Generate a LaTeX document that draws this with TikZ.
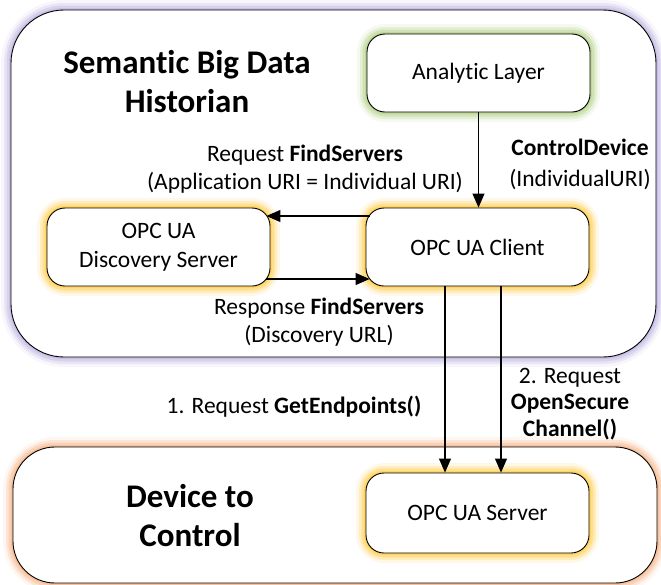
\documentclass[tikz,border=0pt]{standalone}
\usepackage{fontspec}
\setmainfont{Carlito}[Ligatures=NoCommon]
\usetikzlibrary{arrows.meta}

\definecolor{glowpurple}{RGB}{190,180,225}
\definecolor{glowgreen}{RGB}{180,210,135}
\definecolor{glowgold}{RGB}{255,205,70}
\definecolor{gloworange}{RGB}{245,180,135}

\tikzset{
  glow/.style={
    preaction={draw=#1, line width=20pt, opacity=0.12},
    preaction={draw=#1, line width=14pt, opacity=0.25},
    preaction={draw=#1, line width=9pt, opacity=0.40},
    preaction={draw=#1, line width=4pt, opacity=0.60}},
  region/.style={draw=black, line width=0.9pt, fill=white, rounded corners=#1,
    inner sep=0pt},
  unitbox/.style={draw=black, line width=0.9pt, fill=white, rounded corners=18pt,
    minimum width=223pt, minimum height=78pt, align=center, inner sep=0pt,
    font=\fontsize{23.5}{29}\selectfont},
  titletext/.style={align=center, font=\fontsize{33}{39}\selectfont\bfseries},
  lbl/.style={align=center, font=\fontsize{23.5}{28}\selectfont},
  arr/.style={draw=black, line width=1.1pt, -{Triangle[length=14pt,width=12pt]}}
}

\begin{document}
\begin{tikzpicture}[x=1pt, y=-1pt]
\useasboundingbox (0,0) rectangle (661,584);

% enclosing regions
\node[region=53pt, glow=glowpurple, minimum width=645pt, minimum height=347pt]
  (historian) at (333.5,183.5) {};
\node[region=42pt, glow=gloworange, minimum width=644pt, minimum height=136pt]
  (device) at (335,515) {};

\node[titletext] (histtitle) at (187,82) {Semantic Big Data\\Historian};
\node[titletext] (devtitle) at (190,516) {Device to\\Control};

% components
\node[unitbox, glow=glowgreen] (analytic) at (478.5,73) {Analytic Layer};
\node[unitbox, glow=glowgold] (disc) at (158.5,247) {OPC UA\\Discovery Server};
\node[unitbox, glow=glowgold] (client) at (477.5,247) {OPC UA Client};
\node[unitbox, glow=glowgold, minimum height=80pt] (server) at (477.5,513) {OPC UA Server};

% messages
\draw[arr] (analytic.south) -- (analytic.south |- client.north);
\draw[arr] ([xshift=4pt, yshift=31pt]client.west) -- ([xshift=-4pt, yshift=31pt]disc.east);
\draw[arr] ([xshift=-4pt, yshift=-32pt]disc.east) -- ([xshift=4pt, yshift=-32pt]client.west);
\draw[arr] ([xshift=-32.5pt]client.south) -- ([xshift=-32.5pt]client.south |- server.north);
\draw[arr] ([xshift=23.5pt]client.south) -- ([xshift=23.5pt]client.south |- server.north);

% message labels
\node[lbl] (lreq) at (305,169) {Request \textbf{FindServers}\\(Application URI = Individual URI)};
\node[lbl, font=\fontsize{23.5}{31}\selectfont] (lctrl) at (580,164) {\textbf{ControlDevice}\\(IndividualURI)};
\node[lbl] (lresp) at (319,322) {Response \textbf{FindServers}\\(Discovery URL)};
\node[lbl] (lget) at (294,407) {1. Request \textbf{GetEndpoints()}};
\node[lbl, font=\fontsize{23.5}{26.5}\selectfont] (lopen) at (570,404) {2. Request\\\textbf{OpenSecure}\\\textbf{Channel()}};
\end{tikzpicture}
\end{document}
